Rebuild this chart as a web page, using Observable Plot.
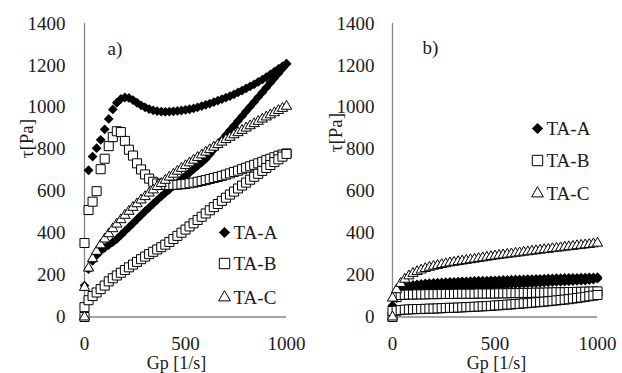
<!DOCTYPE html>
<html><head><meta charset="utf-8">
<script src="https://cdn.jsdelivr.net/npm/d3@7"></script>
<script src="https://cdn.jsdelivr.net/npm/@observablehq/plot@0.6"></script>
<style>
body{margin:0;background:#fff;}
#wrap{display:flex;width:622px;height:373px;overflow:hidden;}
#wrap svg{overflow:visible;}
</style></head><body><div id="wrap"></div>
<script>
// Shear rate grid (Gp, 1/s)
const gp = [0,20,40,60,80,100,120,140,160,180,200,220,240,260,280,300,320,340,360,380,400,420,440,460,480,500,520,540,560,580,600,620,640,660,680,700,720,740,760,780,800,820,840,860,880,900,920,940,960,980,1000];
const yTicks = [0,200,400,600,800,1000,1200,1400];
const xTicks = [0,500,1000];
const seriesNames = ["TA-A","TA-B","TA-C"];

// Panel a) shear stress tau (Pa)
const aA_up = [null,700,765,805,845,895,945,990,1022,1040,1047,1045,1035,1022,1010,1000,992,986,982,980,979,980,981,983,985,988,991,995,1000,1006,1012,1018,1025,1032,1039,1046,1054,1062,1071,1080,1090,1100,1110,1121,1132,1144,1157,1170,1183,1196,1208];
const aA_down = [150,228,268,295,315,330,343,357,372,390,410,428,447,466,485,504,522,540,558,575,592,608,624,640,656,672,688,705,721,737,754,776,799,822,844,867,890,912,935,958,981,1003,1026,1049,1071,1094,1117,1140,1162,1185,1208];
const aB_start = [0];
const aB_up = [353,510,550,600,705,755,815,858,886,882,840,798,770,733,704,680,660,645,637,633,631,630,630,631,633,635,638,641,645,649,653,658,663,668,673,679,685,692,698,705,712,719,726,733,740,748,755,762,769,775,780];
const aB_down = [47,80,100,117,133,150,170,185,198,211,224,237,250,263,276,288,300,311,322,333,345,358,372,387,402,417,432,447,463,478,494,509,524,539,554,569,584,598,613,627,641,655,669,683,697,711,725,739,752,765,778];
const aC_start = [0];
const aC = [141,233,278,313,344,372,397,421,443,464,485,504,523,540,558,574,591,606,622,637,652,667,681,695,709,722,735,748,761,773,786,798,810,822,834,846,857,869,879,890,901,912,922,933,944,954,964,974,985,995,1005];

// Panel b) shear stress tau (Pa)
const bA_up = [null,120,138,145,150,153,156,158,160,162,163,164,165,166,167,168,169,170,170,171,172,173,173,174,175,175,176,177,177,178,179,179,180,181,181,182,182,183,184,184,185,185,186,186,187,187,188,188,189,189,190];
const bA_down = [55,90,110,118,123,127,130,132,134,136,137,138,139,140,141,142,143,144,145,146,147,148,149,150,151,152,153,154,155,156,157,158,159,160,161,162,163,164,165,166,167,168,169,170,171,172,173,174,176,178,183];
const bB_start = [0];
const bB_up = [null,95,105,106,107,107,108,108,108,109,109,109,110,110,110,110,111,111,111,111,111,112,112,112,112,112,113,113,113,114,114,114,115,115,115,116,116,116,117,117,118,118,118,119,119,120,120,121,121,122,122];
const bB_down = [29,30,33,35,36,37,38,38,39,40,40,41,42,43,44,44,45,46,47,48,49,50,51,52,53,55,56,57,59,60,62,63,65,66,68,70,71,73,75,77,79,81,83,85,88,90,93,96,99,102,105];
const bC_start = [0];
const bC = [90,130,160,180,196,208,217,224,231,237,242,246,250,254,258,261,264,267,270,273,276,279,282,285,288,291,294,296,299,301,304,306,309,311,314,316,319,321,323,326,328,330,333,335,337,340,342,344,346,349,352];

function ramp(vals) {
  return vals.map((t, i) => ({gp: gp[i], tau: t})).filter(d => d.tau != null);
}
function start(vals) {
  return vals.map(t => ({gp: 0, tau: t}));
}

const symA = {symbol: "diamond2", fill: "#000", stroke: "none", r: 4.4};
const symB = {symbol: "square", fill: "#fff", stroke: "#000", strokeWidth: 1, r: 5.1};
const symC = {symbol: "triangle", fill: "#fff", stroke: "#000", strokeWidth: 1, r: 3.8};
const syms = [symA, symB, symC];

function panel(cfg) {
  const marks = [
    Plot.ruleY([0], {stroke: "#868686", strokeWidth: 1.3}),
    Plot.ruleX([0], {stroke: "#868686", strokeWidth: 1.3}),
    Plot.axisX({ticks: xTicks, tickSize: 0, tickPadding: 19, tickFormat: "d", label: null}),
    Plot.axisY({ticks: yTicks, tickSize: 0, tickPadding: cfg.yPad, tickFormat: "d", label: null}),
    Plot.dot(cfg.A, {x: "gp", y: "tau", ...symA}),
    Plot.dot(cfg.B, {x: "gp", y: "tau", ...symB}),
    Plot.dot(cfg.C, {x: "gp", y: "tau", ...symC}),
    Plot.text([cfg.tag], {text: d => d, frameAnchor: "top-left", lineAnchor: "middle", textAnchor: "start", dx: cfg.tagDx, dy: cfg.tagDy}),
    Plot.text(["τ[Pa]"], {text: d => d, frameAnchor: "left", lineAnchor: "middle", rotate: -90, dx: cfg.ylabDx, dy: cfg.ylabDy}),
    Plot.text(["Gp [1/s]"], {text: d => d, frameAnchor: "bottom", lineAnchor: "middle", fontSize: 18, dx: cfg.xlabDx, dy: 46.5})
  ];
  seriesNames.forEach((name, i) => {
    marks.push(Plot.dot([name], {frameAnchor: "top-left", dx: cfg.legDx, dy: cfg.legDy[i], ...syms[i], r: syms[i].r * 1.15}));
    marks.push(Plot.text([name], {text: d => d, frameAnchor: "top-left", lineAnchor: "middle", textAnchor: "start", dx: cfg.legDx + 9, dy: cfg.legDy[i]}));
  });
  return Plot.plot({
    width: 311, height: 373,
    marginLeft: cfg.marginLeft, marginRight: 25, marginTop: 23, marginBottom: 56.5,
    x: {domain: [0, 1000]},
    y: {domain: [0, 1400]},
    style: {fontFamily: "'Liberation Serif', 'Times New Roman', serif", fontSize: "19px", color: "#1a1a1a", background: "#fff"},
    marks
  });
}

const wrap = document.getElementById("wrap");
wrap.appendChild(panel({
  tag: "a)", marginLeft: 84, yPad: 19,
  A: [...ramp(aA_up), ...ramp(aA_down)],
  B: [...start(aB_start), ...ramp(aB_up), ...ramp(aB_down)],
  C: [...start(aC_start), ...ramp(aC)],
  tagDx: 23, tagDy: 25, ylabDx: -58, ylabDy: -12, xlabDx: -9,
  legDx: 140, legDy: [209, 240, 274]
}));
wrap.appendChild(panel({
  tag: "b)", marginLeft: 81, yPad: 18,
  A: [...ramp(bA_up), ...ramp(bA_down)],
  B: [...start(bB_start), ...ramp(bB_up), ...ramp(bB_down)],
  C: [...start(bC_start), ...ramp(bC)],
  tagDx: 30, tagDy: 24, ylabDx: -57, ylabDy: -18, xlabDx: 1.5,
  legDx: 145, legDy: [105, 137, 170]
}));
</script></body></html>
